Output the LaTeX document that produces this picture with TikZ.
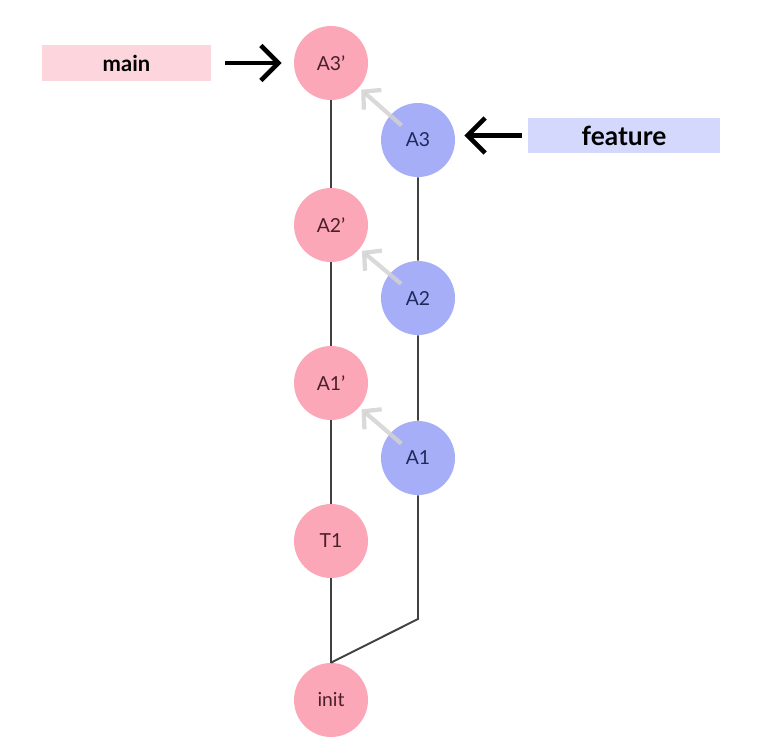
\documentclass[tikz,border=0pt]{standalone}
\usepackage{fontspec}
\setmainfont{Lato}
\usepackage{xcolor}
\usetikzlibrary{arrows.meta,calc}

\definecolor{rosefill}{HTML}{FBA7B8}
\definecolor{rosetext}{HTML}{4A1F2A}
\definecolor{bluefill}{HTML}{A6AEF7}
\definecolor{bluetext}{HTML}{1E2A5C}
\definecolor{mainbox}{HTML}{FDD5DD}
\definecolor{featbox}{HTML}{D4D8FD}
\definecolor{stem}{HTML}{404040}

\begin{document}
\begin{tikzpicture}[x=0.02cm,y=-0.02cm]
            \tikzset{rose/.style = {circle, fill=rosefill, minimum size=1.48cm, inner sep=0pt, text=rosetext, font=\fontsize{11}{13}\selectfont}}
            \tikzset{blue/.style = {circle, fill=bluefill, minimum size=1.48cm, inner sep=0pt, text=bluetext, font=\fontsize{11}{13}\selectfont}}
            \tikzset{edge/.style = {draw=stem, line width=1.1pt}}
            \tikzset{ptr/.style = {line width=2.6pt, -{Straight Barb[length=10pt,width=20pt,line width=2.6pt]}}}
            \tikzset{ghost/.style = {draw=gray!35, draw opacity=0.85, line width=2.4pt, -{Straight Barb[length=7pt,width=15pt,line width=2.4pt]}}}
            \useasboundingbox (0,0) rectangle (763,754);

            % rebased commits on main
            \foreach \name/\lbl/\y in {A3p/A3’/63, A2p/A2’/225, A1p/A1’/383, T1/T1/541, init/init/700}
            {
              \node[rose] (\name) at (331,\y) {\lbl};
            }
            % old commits on feature
            \foreach \name/\y in {A3/140, A2/298, A1/458}
            {
              \node[blue] (\name) at (418,\y) {\name};
            }
            \coordinate (bend) at (418,619);

            % edges
            \draw[edge] (A3p) -- (A2p) -- (A1p) -- (T1) -- (init);
            \draw[edge] (A3) -- (A2) -- (A1) -- (bend) -- (init.north);

            % rebase moves
            \foreach \from/\to in {A3/A3p, A2/A2p, A1/A1p}
            {
              \draw[ghost, shorten <=0.44cm, shorten >=0.06cm] (\from.center) -- (\to);
            }

            % branch labels
            \node[fill=mainbox, minimum width=3.38cm, minimum height=0.74cm, inner sep=0pt, font=\bfseries\fontsize{12.5}{14}\selectfont] (mainlbl) at (126.5,63) {main};
            \node[fill=featbox, minimum width=3.84cm, minimum height=0.7cm, inner sep=0pt, font=\bfseries\fontsize{15}{17}\selectfont] (featlbl) at (624,135.5) {feature};
            \draw[ptr, shorten <=0.28cm, shorten >=0.24cm] (mainlbl) -- (A3p.west |- mainlbl);
            \draw[ptr, shorten <=0.12cm, shorten >=0.18cm] (featlbl) -- (A3.east |- featlbl);
\end{tikzpicture}
\end{document}
